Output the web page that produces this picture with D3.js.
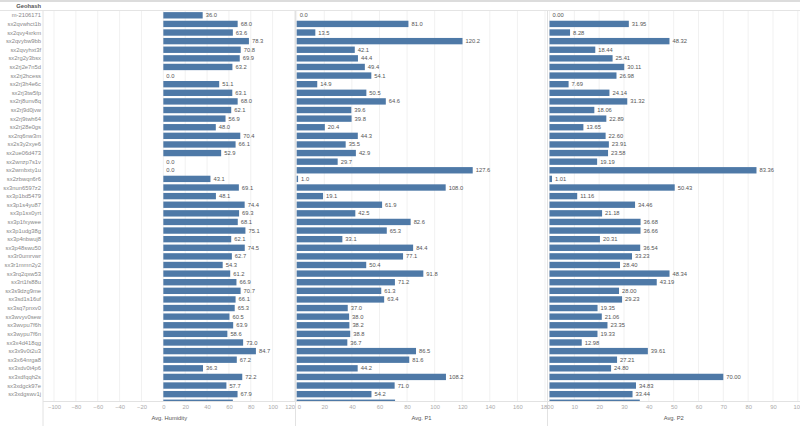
<!DOCTYPE html>
<html>
<head>
<meta charset="utf-8">
<script src="https://cdn.jsdelivr.net/npm/d3@7"></script>
<style>
  html, body { margin: 0; padding: 0; background: #fff; }
  svg { display: block; font-family: "Liberation Sans", Arial, sans-serif; }
</style>
</head>
<body>
<svg id="chart" width="800" height="426"></svg>
<script>
const geohashes = [
  "m-2106171","sx2qvwhct1b","sx2qvy4xrkm","sx2qvybw9bb","sx2qvyhxt3f","sx2rg2y3bsx",
  "sx2rj2e7n5d","sx2rj2hcess","sx2rj3h4e6c","sx2rj3tw5fp","sx2rj8unv8q","sx2rj9d0jvw",
  "sx2rj9twh64","sx2rj28e0gs","sx2rq6nw3m","sx2s3y2xye6","sx2ue06d473","sx2wnzp7s1v",
  "sx2wmbxty1u","sx2zbwqn6r6","sx3nun6597z2","sx3p1bd5479","sx3p1s4yu87","sx3p1sx0yrt",
  "sx3p1fxywee","sx3p1udg38g","sx3p4nbwuj8","sx3p48swu50","sx3r0umrvwr","sx3r1mmn2y2",
  "sx3rq2qxw53","sx3rt1fs88u","sx3s9dzg9me","sx3sd1s16uf","sx3sq7pnxv0","sx3wvyv0sew",
  "sx3wvpu7f6h","sx3wypu7f6n","sx3x4d418qg","sx3x9v0t2u3","sx3x64nrga8","sx3xdv0t4p6",
  "sx3xdfqqh2s","sx3xdgck97e","sx3xdgswv1j","sx3xgu5c8fn"
];
const humidity = [36.0,68.0,63.6,78.3,70.8,69.9,63.2,0.0,51.1,63.1,68.0,62.1,56.9,48.0,70.4,66.1,52.9,0.0,0.0,43.1,69.1,48.1,74.4,69.3,68.1,75.1,62.1,74.5,62.7,54.3,61.2,66.9,70.7,66.1,65.3,60.5,63.9,58.6,73.0,84.7,67.2,36.3,72.2,57.7,67.9,63.6];
const p1 = [0.0,81.0,13.5,120.2,42.1,44.4,49.4,54.1,14.9,50.5,64.6,39.6,39.8,20.4,44.3,35.5,42.9,29.7,127.6,1.0,108.0,19.1,61.9,42.5,82.6,65.3,33.1,84.4,77.1,50.4,91.8,71.2,61.3,63.4,37.0,38.0,38.2,38.8,36.7,86.5,81.6,44.2,108.2,71.0,54.2,71.3];
const p2 = [0.00,31.95,8.28,48.32,18.44,25.41,30.11,26.98,7.69,24.14,31.32,18.06,22.89,13.65,22.60,23.91,23.58,19.19,83.36,1.01,50.43,11.16,34.46,21.18,36.68,36.66,20.31,36.54,33.23,28.40,48.34,43.19,28.00,29.23,19.35,21.06,23.35,19.33,12.98,39.61,27.21,24.80,70.00,34.83,33.44,36.36];
const humidityTicks = [-100,-80,-60,-40,-20,0,20,40,60,80,100,120];
const p1Ticks = [0,20,40,60,80,100,120,140,160,180];
const p2Ticks = [0,10,20,30,40,50,60,70,80,90,100];

const svg = d3.select("#chart");
const W = 800, H = 426;
const labelRight = 41;
const rowsTop = 11, rowsBottom = 401;
const barColor = "#4e79a7";

const rows = geohashes.map((g, i) => ({g, h: humidity[i], p1: p1[i], p2: p2[i]}));

const y = d3.scaleBand()
  .domain(geohashes)
  .range([rowsTop, rowsTop + geohashes.length * 8.61])
  .paddingInner(0.26).paddingOuter(0.13);

const panes = [
  {key: "h",  title: "Avg. Humidity", scale: d3.scaleLinear().domain([-110, 120]).range([43.1, 294.5]), ticks: humidityTicks, fmt: d3.format(".1f"), left: 43, right: 295.5, firstStart: false, lastEnd: true},
  {key: "p1", title: "Avg. P1", scale: d3.scaleLinear().domain([0, 180]).range([296.7, 545]), ticks: p1Ticks, fmt: d3.format(".1f"), left: 295.5, right: 547.5, firstStart: true, lastEnd: false},
  {key: "p2", title: "Avg. P2", scale: d3.scaleLinear().domain([0, 100]).range([549.5, 797.8]), ticks: p2Ticks, fmt: d3.format(".2f"), left: 547.5, right: 800, firstStart: true, lastEnd: false}
];

// top band & header
svg.append("rect").attr("x", 0).attr("y", 0).attr("width", W).attr("height", 2).attr("fill", "#dcdcdc");
svg.append("line").attr("x1", 0).attr("x2", W).attr("y1", 10.5).attr("y2", 10.5).attr("stroke", "#e4e4e4");
svg.append("text").attr("x", labelRight).attr("y", 8)
  .attr("text-anchor", "end").attr("font-size", 5.8).attr("font-weight", "bold").attr("fill", "#555")
  .text("Geohash");

// clip for rows
svg.append("defs").append("clipPath").attr("id", "rowsClip")
  .append("rect").attr("x", 0).attr("y", rowsTop).attr("width", W).attr("height", rowsBottom - rowsTop);

const body = svg.append("g").attr("clip-path", "url(#rowsClip)");

// gridlines
panes.forEach(p => {
  body.append("g").selectAll("line").data(p.ticks).join("line")
    .attr("x1", d => p.scale(d)).attr("x2", d => p.scale(d))
    .attr("y1", rowsTop).attr("y2", rowsBottom)
    .attr("stroke", "#f1f1f1").attr("stroke-width", 1);
});

// pane separators
[43, 295.5, 547.5].forEach(x => {
  svg.append("line").attr("x1", x).attr("x2", x).attr("y1", rowsTop).attr("y2", H)
    .attr("stroke", "#e2e2e2");
});

// row labels
body.append("g").selectAll("text").data(rows).join("text")
  .attr("x", labelRight).attr("y", d => y(d.g) + y.bandwidth() / 2)
  .attr("dy", "0.35em").attr("text-anchor", "end")
  .attr("font-size", 5.8).attr("fill", "#888")
  .text(d => d.g);

// bars and value labels
panes.forEach(p => {
  const g = body.append("g");
  g.selectAll("rect").data(rows).join("rect")
    .attr("x", p.scale(0))
    .attr("y", d => y(d.g))
    .attr("width", d => Math.max(p.scale(d[p.key]) - p.scale(0), d[p.key] > 0 ? 1 : 0))
    .attr("height", y.bandwidth())
    .attr("fill", barColor);
  g.selectAll("text").data(rows).join("text")
    .attr("x", d => Math.max(p.scale(d[p.key]), p.scale(0) + (d[p.key] > 0 ? 1 : 0)) + 3)
    .attr("y", d => y(d.g) + y.bandwidth() / 2)
    .attr("dy", "0.35em")
    .attr("font-size", 5.8).attr("fill", "#555")
    .text(d => p.fmt(d[p.key]));
});

// axis area
svg.append("line").attr("x1", 43).attr("x2", W).attr("y1", rowsBottom + 0.5).attr("y2", rowsBottom + 0.5)
  .attr("stroke", "#e2e2e2");

panes.forEach(p => {
  const axis = d3.axisBottom(p.scale).tickValues(p.ticks).tickSize(0).tickPadding(0);
  const ag = svg.append("g").attr("transform", `translate(0,${rowsBottom + 4})`).call(axis);
  ag.select(".domain").remove();
  ag.selectAll("text").attr("font-size", 5.8).attr("fill", "#aaa")
    .attr("font-family", "Liberation Sans, Arial, sans-serif");
  const n = p.ticks.length;
  ag.selectAll(".tick").filter((d, i) => p.firstStart && i === 0)
    .select("text").attr("text-anchor", "start").attr("x", 0.5);
  ag.selectAll(".tick").filter((d, i) => p.lastEnd && i === n - 1)
    .select("text").attr("text-anchor", "end").attr("x", 0);
  svg.append("text").attr("x", (p.left + p.right) / 2).attr("y", 420)
    .attr("text-anchor", "middle").attr("font-size", 5.8).attr("fill", "#555")
    .text(p.title);
});
</script>
</body>
</html>
